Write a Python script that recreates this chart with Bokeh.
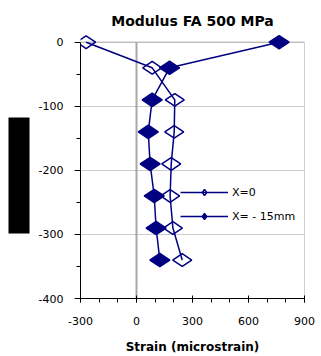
import numpy as np
from bokeh.plotting import figure
from bokeh.models import (FixedTicker, Legend, LegendItem, Range1d, ColorBar,
                          LinearColorMapper)
from bokeh.embed import file_html
from bokeh.resources import INLINE

# ---- data ----
depth = [0, -40, -90, -140, -190, -240, -290, -340]
strain_x0 = [-270, 84, 205, 202, 186, 180, 195, 245]
strain_x15 = [764, 177, 84, 63, 73, 95, 105, 125]
series_names = ["X=0", "X= - 15mm"]
x_ticks = [-300, 0, 300, 600, 900]
y_ticks = [-400, -300, -200, -100, 0]
title_text = "Modulus FA 500 MPa"
x_label = "Strain (microstrain)"

NAVY = "#000080"
FONT = "DejaVu Sans"

p = figure(width=321, height=356, output_backend="svg", toolbar_location=None,
           x_range=Range1d(x_ticks[0], x_ticks[-1]),
           y_range=Range1d(y_ticks[0], y_ticks[-1] + 12),
           min_border_left=80, min_border_right=17, min_border_top=34,
           min_border_bottom=50, title=title_text)
p.outline_line_color = None
p.background_fill_color = "white"

# title
p.title.align = "center"
p.title.text_font = FONT
p.title.text_font_size = "14px"
p.title.text_font_style = "bold"
p.title.text_color = "black"
p.title.standoff = 11

# grids
p.xgrid.visible = False
p.ygrid.ticker = FixedTicker(ticks=y_ticks[1:-1])
p.ygrid.grid_line_color = "#cccccc"
p.ygrid.grid_line_width = 1

# frame lines (top border, right border, zero line)
p.segment(x0=[x_ticks[0]], y0=[y_ticks[-1]], x1=[x_ticks[-1]], y1=[y_ticks[-1]],
          line_color="#a0a0a0", line_width=1)
p.segment(x0=[x_ticks[-1]], y0=[y_ticks[0]], x1=[x_ticks[-1]], y1=[y_ticks[-1]],
          line_color="#a0a0a0", line_width=1)
p.segment(x0=[0], y0=[y_ticks[0]], x1=[0], y1=[y_ticks[-1]],
          line_color="#a8a8a8", line_width=2)

# axes
minor_x = list(range(x_ticks[0], x_ticks[-1] + 1, 100))
minor_y = [(a + b) / 2 for a, b in zip(y_ticks[:-1], y_ticks[1:])]
p.xaxis.ticker = FixedTicker(ticks=x_ticks, minor_ticks=minor_x)
p.yaxis.ticker = FixedTicker(ticks=y_ticks, minor_ticks=minor_y)
p.xaxis.major_label_overrides = {v: str(v) for v in x_ticks}
p.yaxis.major_label_overrides = {v: str(v) for v in y_ticks}
p.yaxis.bounds = (y_ticks[0], y_ticks[-1])

for ax in (p.xaxis, p.yaxis):
    ax.axis_line_color = "black"
    ax.axis_line_width = 1
    ax.major_tick_line_color = "black"
    ax.minor_tick_line_color = "black"
    ax.major_label_text_font = FONT
    ax.major_label_text_font_size = "11px"
    ax.major_label_text_color = "black"

p.xaxis.major_tick_in = 3
p.xaxis.major_tick_out = 4
p.xaxis.minor_tick_in = 0
p.xaxis.minor_tick_out = 4
p.xaxis.major_label_standoff = 14
p.xaxis.axis_label = x_label
p.xaxis.axis_label_text_font = FONT
p.xaxis.axis_label_text_font_size = "12px"
p.xaxis.axis_label_text_font_style = "bold"
p.xaxis.axis_label_text_color = "black"
p.xaxis.axis_label_standoff = 12

p.yaxis.major_tick_in = 0
p.yaxis.major_tick_out = 6
p.yaxis.minor_tick_in = 0
p.yaxis.minor_tick_out = 4
p.yaxis.major_label_standoff = 11

# series
l0 = p.line(strain_x0, depth, line_color=NAVY, line_width=1.5)
m0 = p.scatter(strain_x0, depth, marker="diamond", size=19, angle=np.pi / 2,
               line_color=NAVY, line_width=1.5, fill_alpha=0)
l1 = p.line(strain_x15, depth, line_color=NAVY, line_width=1.5)
m1 = p.scatter(strain_x15, depth, marker="diamond", size=20, angle=np.pi / 2,
               line_color=NAVY, line_width=1.5, fill_color=NAVY)

# legend-only small markers (hidden on the plot)
lm0 = p.scatter(strain_x0, depth, marker="diamond", size=11, angle=np.pi / 2,
                line_color=NAVY, line_width=1.5, fill_alpha=0, visible=False)
lm1 = p.scatter(strain_x15, depth, marker="diamond", size=11, angle=np.pi / 2,
                line_color=NAVY, line_width=1.5, fill_color=NAVY, visible=False)

legend = Legend(items=[LegendItem(label=series_names[0], renderers=[l0, lm0]),
                       LegendItem(label=series_names[1], renderers=[l1, lm1])],
                location=(100, 74))
legend.border_line_color = None
legend.background_fill_color = "white"
legend.background_fill_alpha = 1
legend.inactive_fill_alpha = 0
legend.padding = 6
legend.spacing = 8
legend.glyph_height = 16
legend.glyph_width = 48
legend.label_standoff = 4
legend.label_text_font = FONT
legend.label_text_font_size = "11px"
legend.label_text_color = "black"
legend.margin = 0
p.add_layout(legend)

# black block at left (drawn in the left side panel); upper part white
block_palette = ["black"] * 116 + ["white"] * 77
block = ColorBar(color_mapper=LinearColorMapper(palette=block_palette, low=0, high=1),
                 ticker=FixedTicker(ticks=[]), width=21, height=193,
                 padding=6, margin=0, bar_line_color=None,
                 border_line_color=None, background_fill_alpha=0,
                 major_tick_line_color=None, minor_tick_line_color=None,
                 orientation="vertical")
p.add_layout(block, "left")

open("out.html", "w").write(file_html(p, INLINE))
